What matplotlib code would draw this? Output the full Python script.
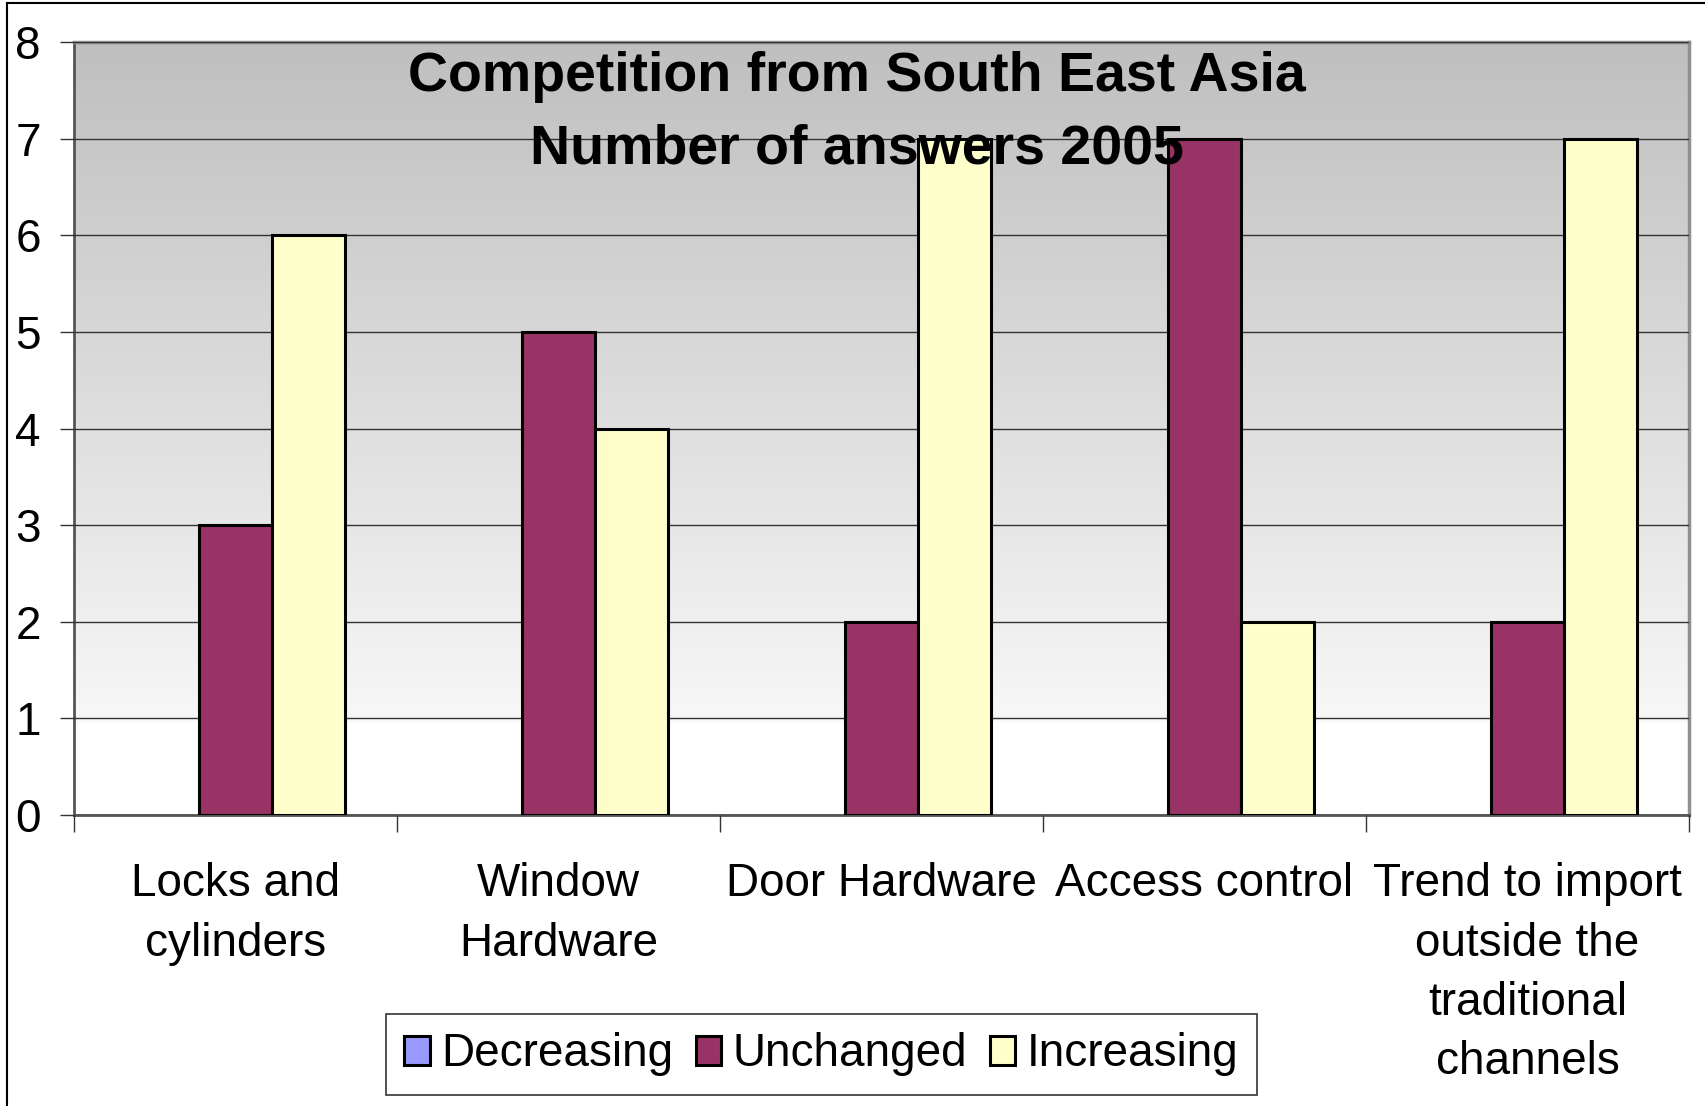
import numpy as np
import matplotlib.pyplot as plt
from matplotlib.patches import Patch
from matplotlib.lines import Line2D

plt.rcParams['font.family'] = ['Liberation Sans', 'DejaVu Sans']

categories = ["Locks and\ncylinders", "Window\nHardware", "Door Hardware",
              "Access control", "Trend to import\noutside the\ntraditional\nchannels"]
decreasing = [0, 0, 0, 0, 0]
unchanged = [3, 5, 2, 7, 2]
increasing = [6, 4, 7, 2, 7]
series_names = ["Decreasing", "Unchanged", "Increasing"]
colors = ["#9999FF", "#993366", "#FFFFCC"]

fig = plt.figure(figsize=(17.06, 11.06), dpi=100)
ax = fig.add_axes([74 / 1706, 1 - 815 / 1106, (1689 - 74) / 1706, (815 - 42) / 1106])

# gradient background (grey at top, white at bottom)
grad = np.linspace(1.0, 0.75, 256).reshape(-1, 1)
grad = np.clip(grad + 0.1 * (np.linspace(1, 0, 256).reshape(-1, 1) > 0.88), 0, 1)
ax.imshow(np.dstack([grad, grad, grad]), extent=[-0.5, 4.5, 0, 8], origin='lower',
          aspect='auto', zorder=0, interpolation='bilinear')

x = np.arange(len(categories))
w = 0.226
for i, (vals, name, c) in enumerate(zip([decreasing, unchanged, increasing], series_names, colors)):
    ax.bar(x + (i - 1) * w, vals, width=w, color=c, edgecolor='black',
           linewidth=2.2 if max(vals) > 0 else 0, zorder=3, label=name)

ax.set_xlim(-0.5, 4.5)
ax.set_ylim(0, 8)
ax.set_yticks(range(0, 9))
ax.yaxis.grid(True, color='#333333', linewidth=1.0, zorder=1)
ax.set_axisbelow(False)
for gl in ax.get_ygridlines():
    gl.set_zorder(1)

ax.set_xticks(x)
ax.set_xticklabels(categories, fontsize=33, linespacing=1.45)
ax.set_xticks(np.arange(-0.5, 5.0, 1.0), minor=True)
ax.tick_params(axis='x', which='major', length=0, pad=34)
ax.tick_params(axis='x', which='minor', length=12, width=1, color='#333333', direction='out')
ax.tick_params(axis='y', labelsize=33, length=10, width=1, color='#333333', pad=14)

for s in ['top', 'right']:
    ax.spines[s].set_color('#909090')
    ax.spines[s].set_linewidth(2.5)
ax.spines['left'].set_color('#555555')
ax.spines['left'].set_linewidth(2)
ax.spines['bottom'].set_color('#555555')
ax.spines['bottom'].set_linewidth(2)

fig.text(0.5024, 1 - 77 / 1106, "Competition from South East Asia", ha='center', va='center',
         fontsize=40, fontweight='bold', zorder=10)
fig.text(0.5024, 1 - 150 / 1106, "Number of answers 2005", ha='center', va='center',
         fontsize=40, fontweight='bold', zorder=10)

handles = [Patch(facecolor=c, edgecolor='black', linewidth=2.2) for c in colors]
leg = fig.legend(handles, series_names, loc='center', ncol=3,
                 bbox_to_anchor=((389 + 1254) / 2 / 1706, 1 - (1013 + 1096) / 2 / 1106),
                 fontsize=33, frameon=True, fancybox=False, edgecolor='black',
                 handlelength=0.55, handleheight=0.6, handletextpad=0.25, columnspacing=0.5,
                 borderpad=0.4, borderaxespad=0)
leg.get_frame().set_linewidth(1.2)

# outer chart border (left and top)
fig.add_artist(Line2D([7 / 1706, 7 / 1706], [0, 1 - 3 / 1106], color='black', linewidth=1.5))
fig.add_artist(Line2D([7 / 1706, 1], [1 - 3 / 1106, 1 - 3 / 1106], color='black', linewidth=1.5))

fig.savefig("out.png", dpi=100)
